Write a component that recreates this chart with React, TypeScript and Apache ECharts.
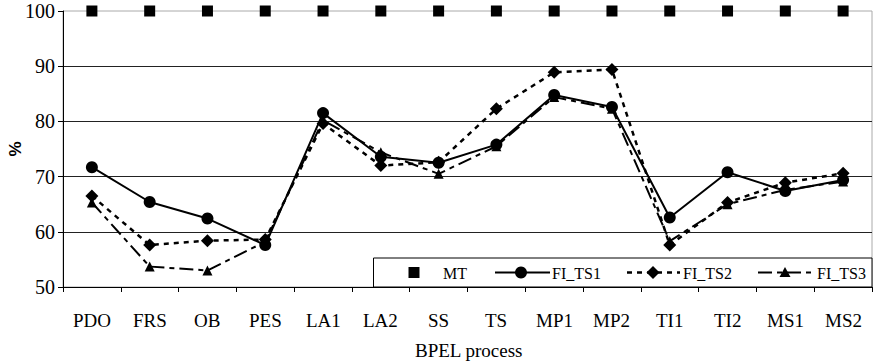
import React, { useEffect, useRef } from "react";
import * as echarts from "echarts";

const categories = ["PDO", "FRS", "OB", "PES", "LA1", "LA2", "SS", "TS", "MP1", "MP2", "TI1", "TI2", "MS1", "MS2"];
const mtValues = [100, 100, 100, 100, 100, 100, 100, 100, 100, 100, 100, 100, 100, 100];
const ts1Values = [71.7, 65.4, 62.4, 57.6, 81.5, 73.6, 72.5, 75.8, 84.8, 82.6, 62.6, 70.8, 67.4, 69.4];
const ts2Values = [66.5, 57.6, 58.4, 58.6, 79.6, 72.0, 72.6, 82.3, 88.9, 89.4, 57.6, 65.3, 68.9, 70.6];
const ts3Values = [65.3, 53.7, 53.0, 58.2, 80.2, 74.4, 70.5, 75.5, 84.4, 82.3, 58.3, 65.0, 67.6, 69.1];
const yTickValues = [50, 60, 70, 80, 90, 100];
const seriesNames = ["MT", "FI_TS1", "FI_TS2", "FI_TS3"];
const xAxisTitle = "BPEL process";
const yAxisTitle = "%";

const FONT = "Liberation Serif";
const TS2_DASH = [5, 5];
const TS3_DASH = [14, 5, 5, 5];

function measure(text: string, size: number): number {
  const c = document.createElement("canvas").getContext("2d");
  if (!c) return text.length * size * 0.5;
  c.font = `${size}px "${FONT}", serif`;
  return c.measureText(text).width;
}

export default function App() {
  const ref = useRef<HTMLDivElement>(null);
  useEffect(() => {
    if (!ref.current) return;
    const chart = echarts.init(ref.current, null, { renderer: "svg" });
    chart.setOption({
      animation: false,
      backgroundColor: "#fff",
      grid: {
        left: 63,
        right: 1,
        top: 11,
        bottom: 76,
        show: true,
        borderColor: "#aaa",
        borderWidth: 1,
      },
      xAxis: {
        type: "category",
        data: categories,
        boundaryGap: true,
        axisLine: { lineStyle: { color: "#000", width: 1 } },
        axisTick: { show: true, length: 5, lineStyle: { color: "#000" } },
        axisLabel: { show: false },
        splitLine: { show: false },
      },
      yAxis: {
        type: "value",
        min: yTickValues[0],
        max: yTickValues[yTickValues.length - 1],
        interval: 10,
        axisLine: { show: true, lineStyle: { color: "#000", width: 1 } },
        axisTick: { show: true, length: 5, lineStyle: { color: "#000" } },
        axisLabel: { show: false },
        splitLine: {
          show: true,
          showMaxLine: false,
          lineStyle: { color: "#222", width: 1 },
        },
      },
      series: [
        {
          name: seriesNames[0],
          type: "line",
          data: mtValues,
          symbol: "rect",
          symbolSize: 11,
          itemStyle: { color: "#000" },
          lineStyle: { width: 0, opacity: 0 },
          z: 5,
        },
        {
          name: seriesNames[1],
          type: "line",
          data: ts1Values,
          symbol: "circle",
          symbolSize: 12,
          itemStyle: { color: "#000" },
          lineStyle: { color: "#000", width: 2, type: "solid" },
          z: 4,
        },
        {
          name: seriesNames[2],
          type: "line",
          data: ts2Values,
          symbol: "diamond",
          symbolSize: 13,
          itemStyle: { color: "#000" },
          lineStyle: { color: "#000", width: 2.5, type: TS2_DASH },
          z: 3,
        },
        {
          name: seriesNames[3],
          type: "line",
          data: ts3Values,
          symbol: "triangle",
          symbolSize: 10,
          itemStyle: { color: "#000" },
          lineStyle: { color: "#000", width: 2, type: TS3_DASH },
          z: 2,
        },
      ],
    });

    const xPix = categories.map((c) => chart.convertToPixel({ xAxisIndex: 0 }, c) as number);
    const yPix = yTickValues.map((v) => chart.convertToPixel({ yAxisIndex: 0 }, v) as number);
    const step = xPix[1] - xPix[0];
    const left = xPix[0] - step / 2;
    const right = xPix[xPix.length - 1] + step / 2;
    const top = yPix[yPix.length - 1];
    const bottom = yPix[0];

    const serifText = (text: string, size: number, lx: number, ty: number) => ({
      type: "text",
      left: Math.round(lx),
      top: Math.round(ty),
      z: 100,
      style: { text, fontFamily: FONT, fontSize: size, fill: "#000" },
    });

    const texts: any[] = [];
    categories.forEach((c, i) => {
      const w = measure(c, 19);
      texts.push(serifText(c, 19, xPix[i] - w / 2, bottom + 33 - 9.5));
    });
    yTickValues.forEach((v, i) => {
      const s = String(v);
      const w = measure(s, 20);
      texts.push(serifText(s, 20, left - 8 - w, yPix[i] - 10));
    });
    {
      const w = measure(xAxisTitle, 19);
      texts.push(serifText(xAxisTitle, 19, (left + right) / 2 + 2 - w / 2, bottom + 63 - 9.5));
    }
    texts.push({
      type: "text",
      x: 15,
      y: (top + bottom) / 2,
      rotation: Math.PI / 2,
      z: 50,
      style: { text: yAxisTitle, fontFamily: "Liberation Sans", fontWeight: "bold", fontSize: 17, fill: "#000", textAlign: "center", textVerticalAlign: "middle" },
    });

    // legend box
    const lx = 373.5;
    const ly = bottom - 29;
    const lw = right - lx;
    const lh = 29;
    const cy = ly + lh / 2;
    const legend: any[] = [
      { type: "rect", z: 40, shape: { x: lx, y: ly, width: lw, height: lh }, style: { fill: "#fff", stroke: "#000", lineWidth: 1 } },
      { type: "rect", z: 41, shape: { x: 414 - 5.5, y: cy - 5.5, width: 11, height: 11 }, style: { fill: "#000" } },
      { type: "line", z: 41, shape: { x1: 495, y1: cy, x2: 550, y2: cy }, style: { stroke: "#000", lineWidth: 2 } },
      { type: "circle", z: 42, shape: { cx: 521, cy, r: 6 }, style: { fill: "#000" } },
      { type: "line", z: 41, shape: { x1: 627, y1: cy, x2: 680, y2: cy }, style: { stroke: "#000", lineWidth: 2.5, lineDash: TS2_DASH } },
      {
        type: "polygon",
        z: 42,
        shape: { points: [[653, cy - 6.5], [659.5, cy], [653, cy + 6.5], [646.5, cy]] },
        style: { fill: "#000" },
      },
      { type: "line", z: 41, shape: { x1: 758, y1: cy, x2: 813, y2: cy }, style: { stroke: "#000", lineWidth: 2, lineDash: TS3_DASH } },
      {
        type: "polygon",
        z: 42,
        shape: { points: [[785, cy - 5.5], [790.5, cy + 4.5], [779.5, cy + 4.5]] },
        style: { fill: "#000" },
      },
    ];
    const legendTextX = [443, 552, 683, 817];
    seriesNames.forEach((n, i) => {
      legend.push(serifText(n, 16, legendTextX[i], cy - 8));
    });

    chart.setOption({ graphic: [...legend, ...texts] });
    return () => chart.dispose();
  }, []);
  return (
    <div
      ref={ref}
      style={{ position: "fixed", left: 0, top: 0, width: 873, height: 363, background: "#fff" }}
    />
  );
}
